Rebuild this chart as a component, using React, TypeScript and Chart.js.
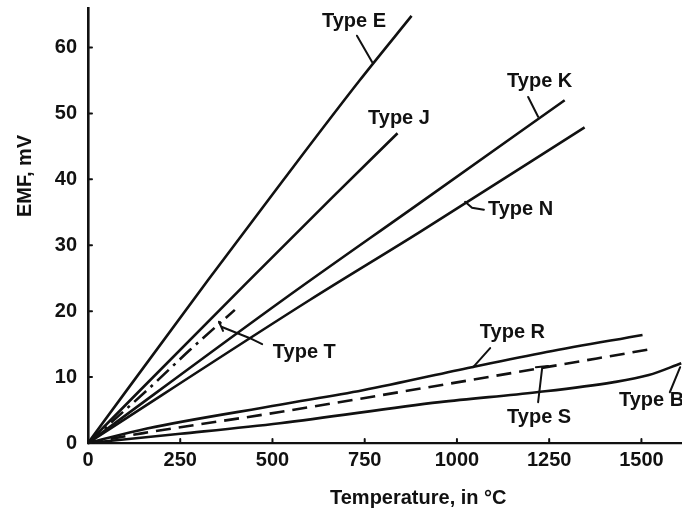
import React, { useEffect, useRef } from 'react';
import { Chart, registerables } from 'chart.js';

Chart.register(...registerables);

// Axis tick values
const xTickValues = [0, 250, 500, 750, 1000, 1250, 1500];
const yTickValues = [0, 10, 20, 30, 40, 50, 60];

// Thermocouple curves: temperature (°C) and EMF (mV)
const typeE_T = [0, 325, 528, 736, 877];
const typeE_V = [0, 24.7, 39.8, 55.0, 64.8];

const typeJ_T = [0, 430, 663, 839];
const typeJ_V = [0, 24.3, 37.3, 47.0];

const typeT_T = [0, 160, 276, 398];
const typeT_V = [0, 8.0, 14.1, 20.2];

const typeK_T = [0, 528, 899, 1292];
const typeK_V = [0, 21.7, 36.4, 52.0];

const typeN_T = [0, 601, 899, 1346];
const typeN_V = [0, 21.7, 32.0, 47.9];

const typeR_T = [0, 160, 520, 745, 1040, 1243, 1503];
const typeR_V = [0, 2.2, 5.8, 8.0, 11.5, 13.8, 16.4];

const typeS_T = [0, 150, 520, 1000, 1522];
const typeS_V = [0, 1.5, 4.7, 9.2, 14.2];

const typeB_T = [0, 250, 520, 953, 1216, 1422, 1520, 1608];
const typeB_V = [0, 1.4, 3.0, 6.2, 7.7, 9.2, 10.3, 12.1];

// Curve labels (left edge of text, vertical centre) in data coordinates
const labelTexts = ['Type E', 'Type J', 'Type K', 'Type N', 'Type T', 'Type R', 'Type S', 'Type B'];
const labelT = [634, 759, 1136, 1084, 501, 1062, 1136, 1439];
const labelV = [63.9, 49.3, 54.9, 35.5, 13.7, 16.7, 3.9, 6.5];

// Leader lines (polylines in data coordinates)
const leaderE = [[729, 61.8], [770, 57.8]];
const leaderK = [[1193, 52.5], [1220, 49.5]];
const leaderN = [[1022, 36.6], [1041, 35.7], [1073, 35.4]];
const leaderTBar = [[355, 18.4], [366, 17.0]];
const leaderT = [[363, 17.6], [412, 16.5], [439, 15.9], [472, 15.0]];
const leaderR = [[1090, 14.4], [1044, 11.5]];
const leaderS = [[1220, 6.2], [1231, 11.4]];
const leaderSBar = [[1214, 11.5], [1247, 11.7]];
const leaderB = [[1577, 7.7], [1605, 11.5]];
const leaders = [leaderE, leaderK, leaderN, leaderTBar, leaderT, leaderR, leaderS, leaderSBar, leaderB];

const xTitle = 'Temperature, in °C';
const yTitle = 'EMF, mV';

const FONT = '"Liberation Sans", Arial, sans-serif';
const INK = '#111';

function pts(t: number[], v: number[]) {
  return t.map((x, i) => ({ x, y: v[i] }));
}

function line(label: string, t: number[], v: number[], dash: number[] = []) {
  return {
    label,
    data: pts(t, v),
    borderColor: INK,
    borderWidth: 2.6,
    borderDash: dash,
    pointRadius: 0,
    fill: false,
    tension: 0.3,
    cubicInterpolationMode: 'monotone' as const,
    clip: false as const,
  };
}

const annotatePlugin = {
  id: 'annotate',
  afterDraw(chart: any) {
    const { ctx, chartArea } = chart;
    const xs = chart.scales.x;
    const ys = chart.scales.y;
    ctx.save();
    ctx.strokeStyle = INK;
    ctx.fillStyle = INK;
    ctx.lineCap = 'round';

    // inward tick marks
    ctx.lineWidth = 2;
    yTickValues.forEach((v) => {
      const py = ys.getPixelForValue(v);
      ctx.beginPath();
      ctx.moveTo(chartArea.left, py);
      ctx.lineTo(chartArea.left + 4, py);
      ctx.stroke();
    });
    xTickValues.forEach((v) => {
      const px = xs.getPixelForValue(v);
      ctx.beginPath();
      ctx.moveTo(px, chartArea.bottom);
      ctx.lineTo(px, chartArea.bottom - 4);
      ctx.stroke();
    });

    // leader lines
    ctx.lineWidth = 2;
    leaders.forEach((poly) => {
      ctx.beginPath();
      poly.forEach(([t, v], i) => {
        const px = xs.getPixelForValue(t);
        const py = ys.getPixelForValue(v);
        if (i === 0) ctx.moveTo(px, py);
        else ctx.lineTo(px, py);
      });
      ctx.stroke();
    });

    // curve labels
    ctx.font = `bold 20px ${FONT}`;
    ctx.textAlign = 'left';
    ctx.textBaseline = 'middle';
    labelTexts.forEach((txt, i) => {
      ctx.fillText(txt, xs.getPixelForValue(labelT[i]), ys.getPixelForValue(labelV[i]));
    });

    // axis titles
    ctx.font = `bold 20px ${FONT}`;
    ctx.textAlign = 'center';
    ctx.textBaseline = 'middle';
    ctx.fillText(xTitle, chartArea.left + (chartArea.right - chartArea.left) * 0.556, chartArea.bottom + 55);
    ctx.save();
    ctx.translate(25, chartArea.top + (chartArea.bottom - chartArea.top) * 0.386);
    ctx.rotate(-Math.PI / 2);
    ctx.fillText(yTitle, 0, 0);
    ctx.restore();

    ctx.restore();
  },
};

export default function App() {
  const ref = useRef<HTMLCanvasElement | null>(null);

  useEffect(() => {
    if (!ref.current) return;
    const chart = new Chart(ref.current, {
      type: 'line',
      data: {
        datasets: [
          line('Type E', typeE_T, typeE_V),
          line('Type J', typeJ_T, typeJ_V),
          line('Type T', typeT_T, typeT_V, [16, 6, 3, 6]),
          line('Type K', typeK_T, typeK_V),
          line('Type N', typeN_T, typeN_V),
          line('Type R', typeR_T, typeR_V),
          line('Type S', typeS_T, typeS_V, [15, 8]),
          line('Type B', typeB_T, typeB_V),
        ],
      },
      options: {
        responsive: false,
        animation: false,
        devicePixelRatio: 1,
        layout: { padding: { top: 8, right: 0, bottom: 0, left: 0 } },
        plugins: {
          legend: { display: false },
          tooltip: { enabled: false },
          title: { display: false },
        },
        scales: {
          x: {
            type: 'linear',
            min: 0,
            max: 1610,
            afterFit: (s: any) => {
              s.height = 72;
              s.paddingLeft = 0;
              s.paddingRight = 0;
            },
            afterBuildTicks: (s: any) => {
              s.ticks = xTickValues.map((v) => ({ value: v }));
            },
            ticks: {
              padding: 5,
              color: INK,
              font: { family: FONT, size: 20, weight: 'bold' },
              maxRotation: 0,
              autoSkip: false,
              callback: (v: any) => String(v),
            },
            grid: { display: true, drawOnChartArea: false, drawTicks: false },
            border: { display: true, color: INK, width: 2.2 },
          },
          y: {
            type: 'linear',
            min: 0,
            max: 66,
            afterFit: (s: any) => {
              s.width = 88;
              s.paddingTop = 0;
              s.paddingBottom = 0;
            },
            afterBuildTicks: (s: any) => {
              s.ticks = yTickValues.map((v) => ({ value: v }));
            },
            ticks: {
              padding: 11,
              color: INK,
              font: { family: FONT, size: 20, weight: 'bold' },
              autoSkip: false,
              callback: (v: any) => String(v),
            },
            grid: { display: true, drawOnChartArea: false, drawTicks: false },
            border: { display: true, color: INK, width: 2.6 },
          },
        },
      },
      plugins: [annotatePlugin],
    });
    return () => chart.destroy();
  }, []);

  return (
    <div style={{ position: 'absolute', left: 0, top: 0, width: 682, height: 515, background: '#fff' }}>
      <canvas ref={ref} width={682} height={515} style={{ display: 'block' }} />
    </div>
  );
}
